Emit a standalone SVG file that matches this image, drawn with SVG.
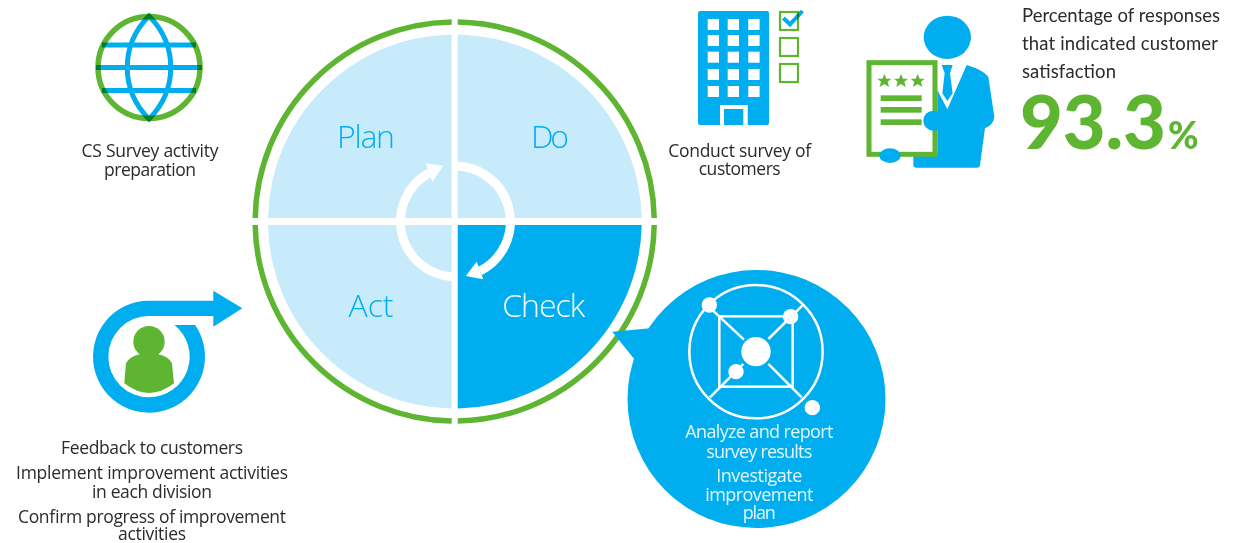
<svg xmlns="http://www.w3.org/2000/svg" width="1251" height="543" viewBox="0 0 1251 543">
<style>
.b{fill:#00aeef}.g{fill:#5db532}.w{fill:#fff}.l{fill:#c7ebfa}
.ring{fill:none;stroke:#5db532;stroke-width:5.5}
.wline{fill:none;stroke:#fff;stroke-width:9}
text{font-family:"Open Sans","Noto Sans",sans-serif;text-anchor:middle}
.lab{font-size:17.5px;fill:#2b2b2b}
.bal{font-size:18px;fill:#e6f7fe}
.pdca{font-size:32px;font-weight:300}
.pct{font-family:Lato,"Open Sans",sans-serif;text-anchor:start;font-size:18.5px;fill:#2b2b2b}
.num{font-family:Lato,"Open Sans",sans-serif;text-anchor:start;font-weight:900;fill:#5db532}
</style>
<rect width="1251" height="543" fill="#fff"/>
<g id="pdca-wheel">
<path class="ring" d="M451.7,22A199.5,199.5 0 0 0 255.2,218"/>
<path class="ring" d="M457.7,22A199.5,199.5 0 0 1 654.2,218"/>
<path class="ring" d="M654.2,225A199.5,199.5 0 0 1 457.7,421"/>
<path class="ring" d="M255.2,225A199.5,199.5 0 0 0 451.7,421"/>
</g>
<g id="plan"><path class="l" d="M451.7,218V34.5A187,187 0 0 0 268,218Z"/><text class="pdca" x="366" y="148" fill="#00aeef" textLength="58">Plan</text></g>
<g id="do"><path class="l" d="M457.7,218V34.5A187,187 0 0 1 641.7,218Z"/><text class="pdca" x="550" y="148" fill="#00aeef" textLength="38">Do</text></g>
<g id="check"><path class="b" d="M457.7,225H641.7A187,187 0 0 1 457.7,408.5Z"/><text class="pdca" x="543.7" y="316.7" fill="#fff" textLength="83">Check</text></g>
<g id="act"><path class="l" d="M451.7,225H268A187,187 0 0 0 451.7,408.5Z"/><text class="pdca" x="371" y="316.7" fill="#00aeef" textLength="45">Act</text></g>
<g id="connectors">
<path class="wline" d="M455.3,166A55.5,55.5 0 0 1 480,271"/>
<path class="w" d="M465.7,276L476.7,261.7L483.3,279.3Z"/>
<path class="wline" d="M455.3,277A55.5,55.5 0 0 1 429,173"/>
<path class="w" d="M443.3,165.7L425.7,163.3L432.3,181.7Z"/>
</g>
<g id="globe">
<circle cx="149" cy="67.5" r="51" fill="none" stroke="#5db532" stroke-width="5.5"/>
<g style="mix-blend-mode:multiply" fill="none" stroke="#00aeef" stroke-width="5">
<path d="M149,16C120,45 120,90 149,119C178,90 178,45 149,16Z"/>
<path d="M102,45H196M96,67.5H202M102,90.5H196"/>
</g>
<text class="lab" x="150" y="157" textLength="137">CS Survey activity</text>
<text class="lab" x="150" y="176" textLength="92">preparation</text>
</g>
<g id="survey">
<rect class="b" x="698" y="11" width="71" height="114" rx="2"/>
<g class="w">
<rect x="707.7" y="19" width="11.3" height="11"/><rect x="727.7" y="19" width="11.3" height="11"/><rect x="748.3" y="19" width="11.3" height="11"/>
<rect x="707.7" y="35" width="11.3" height="11"/><rect x="727.7" y="35" width="11.3" height="11"/><rect x="748.3" y="35" width="11.3" height="11"/>
<rect x="707.7" y="51.7" width="11.3" height="11"/><rect x="727.7" y="51.7" width="11.3" height="11"/><rect x="748.3" y="51.7" width="11.3" height="11"/>
<rect x="707.7" y="69" width="11.3" height="11"/><rect x="727.7" y="69" width="11.3" height="11"/><rect x="748.3" y="69" width="11.3" height="11"/>
<rect x="707.7" y="86" width="11.3" height="11"/><rect x="727.7" y="86" width="11.3" height="11"/><rect x="748.3" y="86" width="11.3" height="11"/>
<rect x="720" y="105" width="27.7" height="20"/>
</g>
<rect class="b" x="724" y="109" width="19.3" height="16"/>
<g fill="none" stroke="#5db532" stroke-width="2.2">
<rect x="780" y="12" width="18" height="18"/><rect x="780" y="38" width="18" height="18"/><rect x="780" y="64" width="18" height="18"/>
</g>
<path style="mix-blend-mode:multiply" fill="none" stroke="#00aeef" stroke-width="4" d="M783.3,18L790,24.3L802.5,11"/>
<text class="lab" x="739.7" y="156.7" textLength="143">Conduct survey of</text>
<text class="lab" x="739.7" y="175" textLength="82">customers</text>
</g>
<g id="satisfaction">
<g transform="translate(860,0) scale(0.3333)">
<ellipse class="b" cx="262" cy="112" rx="71" ry="65"/>
<path class="b" d="M320,195Q370,210 385,230L403,350Q400,375 375,385L360,495Q360,503 350,503H170Q160,503 160,495V460H232V270L262,328Z"/>
<path class="b" d="M245,195H278L270,220L278,280L262,303L247,280L254,220Z"/>
<rect class="w" x="27" y="188" width="198" height="275" stroke="#5db532" stroke-width="15"/>
<g class="g">
<path d="M73,222L79,236H94L83,245L87,261L73,252L59,261L63,245L52,236H67Z"/>
<path d="M123,222L129,236H144L133,245L137,261L123,252L109,261L113,245L102,236H117Z"/>
<path d="M173,222L179,236H194L183,245L187,261L173,252L159,261L163,245L152,236H167Z"/>
<rect x="62" y="286" width="123" height="17"/><rect x="62" y="321" width="123" height="17"/><rect x="62" y="358" width="123" height="17"/>
</g>
<rect class="b" x="190" y="332" width="62" height="60" rx="30"/>
<ellipse class="b" cx="90" cy="467" rx="32" ry="22"/>
</g>
<text class="pct" x="1022" y="22" textLength="198">Percentage of responses</text>
<text class="pct" x="1022" y="50" textLength="196">that indicated customer</text>
<text class="pct" x="1022" y="78" textLength="94">satisfaction</text>
<text class="num" x="1020" y="149.3" font-size="74" textLength="146">93.3</text>
<text class="num" x="1168" y="149.3" font-size="37" textLength="32">%</text>
</g>
<g id="analysis">
<circle class="b" cx="756.5" cy="399" r="129"/>
<path class="b" d="M612.3,331.7L650,328.3L660,345L640,372L635,360Z"/>
<g transform="translate(600,265) scale(0.3333)">
<g fill="none" stroke="#fff" stroke-width="7.5">
<circle cx="468" cy="260" r="200"/>
<rect x="358" y="154" width="220" height="211"/>
<path d="M310,110L432,224M505,297L605,397M330,397L430,297M505,222L607,122"/>
</g>
<g class="w">
<circle cx="468" cy="260" r="44"/>
<circle cx="328" cy="120" r="23"/><circle cx="572" cy="155" r="23"/><circle cx="408" cy="320" r="23"/><circle cx="637" cy="428" r="23"/>
</g>
</g>
<text class="bal" x="759.3" y="438" textLength="148">Analyze and report</text>
<text class="bal" x="759.3" y="457.7" textLength="106">survey results</text>
<text class="bal" x="759.3" y="481.7" textLength="86">Investigate</text>
<text class="bal" x="759.3" y="500.7" textLength="108">improvement</text>
<text class="bal" x="759.3" y="519" textLength="33">plan</text>
</g>
<g id="feedback">
<g transform="translate(0,280) scale(0.3333)">
<path class="b" d="M640,32L727,85L640,140V108H447A122,122 0 0 0 447,352A122,122 0 0 0 523.5,135H585.6A168,168 0 1 1 447,62H640Z"/>
<circle class="g" cx="447" cy="185" r="47"/>
<path class="g" d="M373,310L378,250Q385,232 420,222H474Q510,232 516,250L522,310Q447,368 373,310Z"/>
</g>
<text class="lab" x="152" y="454.3" textLength="182">Feedback to customers</text>
<text class="lab" x="152" y="479" textLength="272">Implement improvement activities</text>
<text class="lab" x="152" y="497.7" textLength="120">in each division</text>
<text class="lab" x="152" y="522.7" textLength="268">Confirm progress of improvement</text>
<text class="lab" x="152" y="540" textLength="68">activities</text>
</g>
</svg>
